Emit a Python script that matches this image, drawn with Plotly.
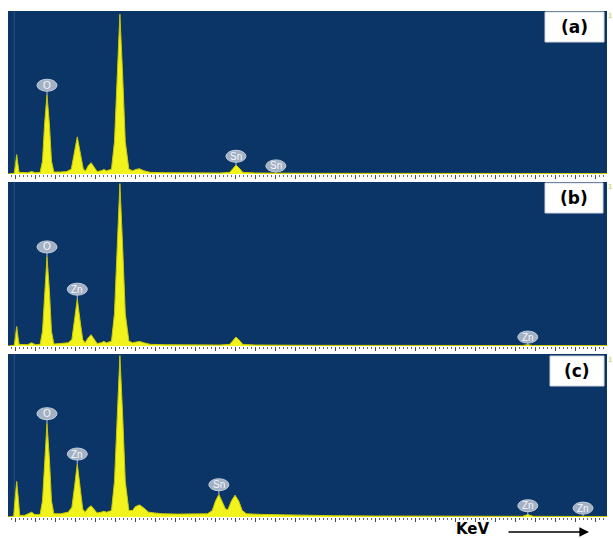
import plotly.graph_objects as go

# ---------------- data (energy in keV, counts in % of panel full scale) -------------
energy_a = [-0.125, -0.02, 0.0, 0.02, 0.04, 0.06, 0.2, 0.27, 0.33, 0.41, 0.45, 0.485, 0.525, 0.565, 0.60, 0.64,
            0.75, 0.85, 0.93, 0.98, 1.03, 1.08, 1.13, 1.17, 1.21, 1.26, 1.31, 1.36, 1.43, 1.47, 1.52, 1.60,
            1.65, 1.695, 1.74, 1.785, 1.83, 1.89, 1.95, 2.02, 2.07, 2.14, 2.25, 2.5, 3.0, 3.4, 3.57, 3.63,
            3.675, 3.72, 3.79, 4.0, 4.3, 5.0, 9.86]
counts_a = [0, 0.5, 6, 12, 6, 1, 0.8, 1.5, 0.8, 1.0, 8, 31, 49, 31, 8, 1.2,
            1.2, 1.5, 3, 13, 23, 13, 3, 2, 5, 7, 4, 1.5, 2, 2.8, 2, 3,
            20, 62, 99, 62, 20, 3, 2, 3, 3.2, 2, 1, 0.8, 0.6, 0.6, 1, 4,
            5.5, 4, 1, 0.6, 0.5, 0.4, 0.3]

energy_b = [-0.125, -0.02, 0.0, 0.02, 0.04, 0.06, 0.2, 0.27, 0.33, 0.41, 0.45, 0.485, 0.525, 0.565, 0.60, 0.64,
            0.78, 0.88, 0.94, 0.985, 1.03, 1.075, 1.12, 1.16, 1.21, 1.26, 1.31, 1.36, 1.43, 1.47, 1.52, 1.60,
            1.65, 1.695, 1.74, 1.785, 1.83, 1.89, 1.95, 2.02, 2.07, 2.14, 2.25, 2.5, 3.0, 3.4, 3.57, 3.63,
            3.675, 3.72, 3.79, 4.0, 5.0, 8.45, 8.54, 8.62, 9.86]
counts_b = [0, 0.5, 6, 12, 6, 1, 0.8, 2, 0.8, 1.0, 9, 34, 55, 34, 9, 1.2,
            1.5, 2, 4, 16, 29, 16, 4, 2, 5, 7, 4, 1.5, 2, 2.8, 2, 3,
            20, 62, 100, 62, 20, 3, 2, 2.5, 2.8, 2, 1, 0.8, 0.6, 0.6, 1, 4,
            5.5, 4, 1, 0.6, 0.4, 0.3, 0.8, 0.3, 0.3]

energy_c = [-0.125, -0.03, -0.01, 0.02, 0.05, 0.07, 0.15, 0.22, 0.27, 0.32, 0.41, 0.45, 0.485, 0.525, 0.565,
            0.60, 0.64, 0.75, 0.88, 0.94, 0.985, 1.03, 1.075, 1.12, 1.16, 1.21, 1.26, 1.31, 1.36, 1.43, 1.47,
            1.52, 1.60, 1.65, 1.695, 1.74, 1.785, 1.83, 1.89, 1.95, 2.0, 2.07, 2.14, 2.22, 2.32, 2.45, 2.7,
            3.0, 3.2, 3.28, 3.335, 3.39, 3.445, 3.5, 3.54, 3.6, 3.66, 3.72, 3.78, 3.85, 4.1, 4.6, 5.0, 5.3,
            6.0, 8.45, 8.54, 8.63, 9.86]
counts_c = [0, 0.5, 10, 22, 10, 1, 1, 2, 3, 1.5, 1.5, 10, 36, 58, 36,
            10, 2, 2, 3, 6, 19, 33, 19, 5, 3, 5.5, 7, 4.5, 2.5, 3, 3.5,
            3, 4, 22, 64, 100, 64, 22, 4, 4, 6.5, 7.5, 5.5, 3, 2.5, 2, 1.8,
            1.8, 2, 4, 10, 14, 10, 5, 4.5, 10, 13.5, 10, 4, 2, 1.6, 1.2, 1.2, 0.8,
            0.6, 0.4, 1.5, 0.4, 0.3]

# element markers: text, energy, marker height, peak top
labels_a = ["O", "Sn", "Sn"]
label_x_a = [0.525, 3.675, 4.34]
label_y_a = [55, 11, 5]
label_top_a = [49, 5.5, 0.5]

labels_b = ["O", "Zn", "Zn"]
label_x_b = [0.525, 1.03, 8.54]
label_y_b = [61, 35, 5.5]
label_top_b = [55, 29, 0.8]

labels_c = ["O", "Zn", "Sn", "Zn", "Zn"]
label_x_c = [0.525, 1.03, 3.39, 8.54, 9.46]
label_y_c = [64, 39, 20, 7, 5.5]
label_top_c = [58, 33, 14, 1.5, 0.5]

panel_tags = ["(a)", "(b)", "(c)"]

# ---------------- layout geometry (pixels of the 613x539 page) ----------------
W, H = 613, 539
panels_px = [(11, 174), (182, 346), (354, 517)]
tag_boxes_px = [(545, 604, 12, 42), (545, 603, 183, 213), (550, 604, 356, 386)]
x_left_px, x_right_px = 8, 607

def py(v):
    return 1 - v / H

def px(v):
    return v / W

BG = "#0b3567"
YEL = "#f2f21c"

fig = go.Figure()
series = [(energy_a, counts_a), (energy_b, counts_b), (energy_c, counts_c)]
label_sets = [(labels_a, label_x_a, label_y_a, label_top_a),
              (labels_b, label_x_b, label_y_b, label_top_b),
              (labels_c, label_x_c, label_y_c, label_top_c)]

shapes = []
annotations = []
for i, (ex, cy) in enumerate(series):
    xa = "x" if i == 0 else f"x{i+1}"
    ya = "y" if i == 0 else f"y{i+1}"
    fig.add_trace(go.Scatter(x=ex, y=cy, mode="lines", fill="tozeroy",
                             fillcolor=YEL, line=dict(color="#c9c900", width=1),
                             xaxis=xa, yaxis=ya, showlegend=False, hoverinfo="skip"))
    # faint zero-energy line
    shapes.append(dict(type="line", xref=xa, yref=ya, x0=-0.02, x1=-0.02, y0=0, y1=101,
                       line=dict(color="#2a5282", width=1), layer="below"))
    txt, lx, ly, lt = label_sets[i]
    for t, x, y, top in zip(txt, lx, ly, lt):
        shapes.append(dict(type="line", xref=xa, yref=ya, x0=x, x1=x, y0=top, y1=y,
                           line=dict(color="#b8c4d4", width=1)))
        shapes.append(dict(type="circle", xref=xa, yref=ya, xsizemode="pixel", ysizemode="pixel",
                           xanchor=x, yanchor=y, x0=-10, x1=10, y0=-6, y1=6,
                           fillcolor="#a3b1c4", line=dict(color="#c4cfdc", width=1)))
        annotations.append(dict(xref=xa, yref=ya, x=x, y=y, text=t, showarrow=False,
                                xanchor="center", yanchor="middle",
                                font=dict(family="Liberation Sans", size=10, color="#f4f7fb")))
    # panel tag boxes
    x0, x1, y0, y1 = tag_boxes_px[i]
    shapes.append(dict(type="rect", xref="paper", yref="paper", x0=px(x0), x1=px(x1),
                       y0=py(y1), y1=py(y0), fillcolor="white",
                       line=dict(color="#d0d6de", width=1)))
    annotations.append(dict(xref="paper", yref="paper", x=px((x0 + x1) / 2), y=py((y0 + y1) / 2),
                            xanchor="center", yanchor="middle",
                            text="<b>" + panel_tags[i] + "</b>", showarrow=False,
                            font=dict(family="DejaVu Sans", size=17, color="black")))
    annotations.append(dict(xref="paper", yref="paper", x=px(610), y=py(panels_px[i][0] + 5),
                            xanchor="center", yanchor="middle",
                            text="1", showarrow=False,
                            font=dict(family="Liberation Sans", size=8, color="#c8d23c")))

# KeV label and arrow
annotations.append(dict(xref="paper", yref="paper", x=px(473), y=0, text="<b>KeV</b>",
                        xanchor="center", yanchor="bottom", borderpad=0,
                        showarrow=False, font=dict(family="DejaVu Sans", size=15, color="black")))
annotations.append(dict(xref="paper", yref="paper", x=px(589), y=py(532), ax=-82, ay=0,
                        text="", showarrow=True, arrowhead=2, arrowsize=1.2, arrowwidth=1.6,
                        arrowcolor="black"))

layout = dict(width=W, height=H, margin=dict(l=0, r=0, t=0, b=0),
              paper_bgcolor="white", plot_bgcolor=BG, shapes=shapes, annotations=annotations,
              showlegend=False)
for i, (top, bot) in enumerate(panels_px):
    xk = "xaxis" if i == 0 else f"xaxis{i+1}"
    yk = "yaxis" if i == 0 else f"yaxis{i+1}"
    ya = "y" if i == 0 else f"y{i+1}"
    xa = "x" if i == 0 else f"x{i+1}"
    layout[xk] = dict(domain=[px(x_left_px), px(x_right_px)], range=[-0.125, 9.86],
                      anchor=ya, showgrid=False, zeroline=False, showticklabels=False,
                      ticks="outside", ticklen=4, tickcolor="#4a4a4a", tickwidth=1,
                      tick0=0, dtick=1 / 3,
                      minor=dict(ticks="outside", ticklen=2, tickcolor="#6a6a6a", dtick=1 / 15),
                      showline=False, fixedrange=True)
    layout[yk] = dict(domain=[py(bot), py(top)], range=[0, 101], anchor=xa,
                      showgrid=False, zeroline=False, showticklabels=False, ticks="",
                      fixedrange=True)
fig.update_layout(**layout)
fig.write_html("out.html")
